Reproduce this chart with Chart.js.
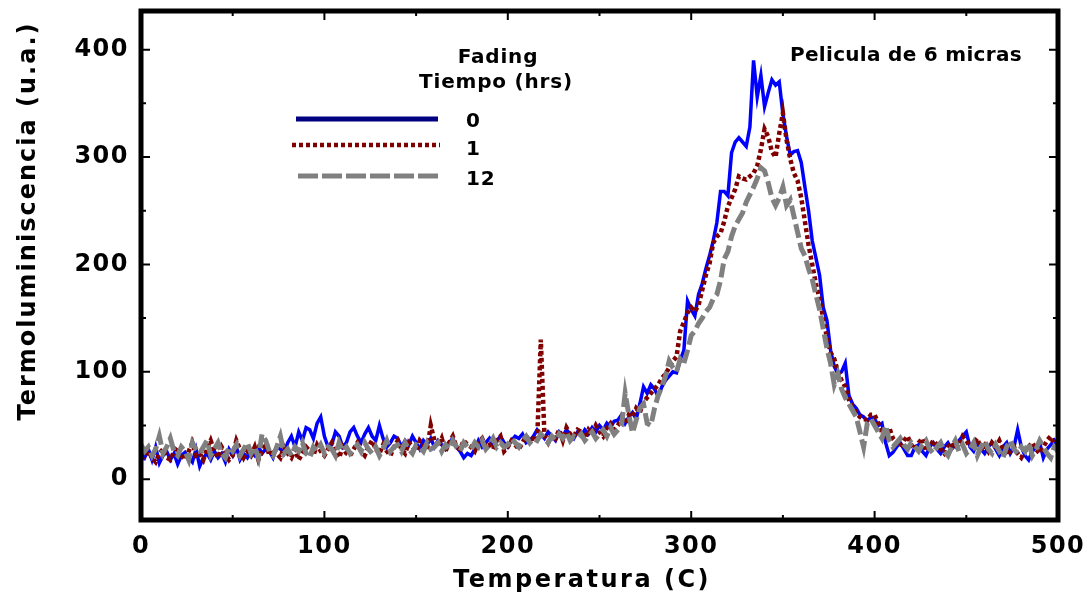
<!DOCTYPE html>
<html><head><meta charset="utf-8">
<script src="https://cdn.jsdelivr.net/npm/chart.js@4"></script>
<style>html,body{margin:0;padding:0;background:#fff;overflow:hidden}canvas{display:block}</style>
</head><body>
<canvas id="c" width="1090" height="597"></canvas>
<script>
// ---- data (temperature sampled every 2 C from 0 to 500) ----
const T_START = 0, T_STEP = 2;
const serie0h = [
 25,20,28,18,30,15,22,26,18,24,
 14,22,25,20,16,28,12,20,24,18,
 26,20,24,16,28,22,30,18,24,20,
 26,22,30,24,28,26,20,30,28,24,
 34,40,30,44,36,48,46,38,52,58,
 40,30,32,44,40,30,34,44,48,40,
 34,42,48,40,36,50,38,30,34,40,
 38,30,36,32,40,34,28,36,32,38,
 30,36,32,28,34,38,30,26,20,24,
 22,28,36,30,34,38,32,36,40,34,
 30,36,40,38,42,34,36,40,46,42,
 38,44,40,36,44,40,46,42,38,44,
 40,46,42,48,44,50,46,52,48,54,
 55,60,52,58,62,56,70,86,80,88,
 84,77,86,92,96,100,99,111,120,166,
 158,152,172,182,196,208,222,239,268,268,
 264,304,314,318,314,310,328,390,356,376,
 347,360,372,367,370,340,319,302,305,306,
 295,272,250,222,206,190,160,148,120,105,
 98,100,108,78,70,66,60,58,54,58,
 56,50,52,34,22,25,30,34,28,22,
 22,30,32,26,22,30,34,28,24,30,
 34,28,32,36,40,44,30,26,34,28,
 24,30,34,28,22,30,34,24,30,46,
 30,22,18,26,30,34,20,28,32,36,
 28
];
const serie1h = [
 18,22,26,20,16,24,28,20,18,26,
 30,22,18,26,34,22,24,18,28,36,
 26,20,30,24,18,22,36,28,20,26,
 22,30,18,26,34,22,28,24,20,30,
 24,20,28,18,24,30,26,22,32,26,
 22,28,34,26,20,30,24,22,28,34,
 26,22,30,36,28,24,32,26,22,30,
 36,28,24,34,30,26,36,32,28,50,
 36,30,38,26,34,40,30,28,36,32,
 30,26,34,38,30,32,28,36,40,26,
 30,36,32,28,34,40,36,38,36,130,
 40,34,42,38,46,36,48,42,40,46,
 44,38,46,42,50,44,40,48,52,46,
 50,56,52,60,58,66,62,72,76,80,
 84,88,94,98,104,110,114,138,146,155,
 160,156,162,176,190,201,220,226,229,240,
 254,262,270,282,280,279,282,285,292,307,
 326,319,305,300,322,341,316,298,285,278,
 262,240,218,200,182,168,150,132,118,112,
 100,92,86,74,67,62,58,56,55,60,
 60,52,44,40,48,38,34,30,36,40,
 32,28,34,38,26,30,36,32,28,24,
 30,34,28,32,40,36,30,34,38,28,
 32,26,34,30,36,28,22,26,30,24,
 20,26,30,34,28,24,30,36,40,32,
 30
];
const serie12h = [
 32,26,30,22,28,40,24,30,38,26,
 22,30,26,18,34,28,24,30,36,22,
 28,34,24,20,30,26,32,22,28,34,
 24,30,20,42,36,26,22,30,40,24,
 28,22,30,26,34,24,20,30,26,32,
 24,30,28,22,34,26,30,24,28,32,
 26,34,28,24,30,22,28,36,26,30,
 32,26,34,28,24,32,30,26,34,28,
 30,34,26,32,28,36,30,26,34,30,
 28,34,30,36,28,32,38,30,34,30,
 32,38,34,30,36,40,34,38,36,42,
 38,34,40,36,42,38,44,36,40,38,
 42,36,40,44,38,42,46,40,48,42,
 46,50,80,60,43,55,66,70,52,50,
 66,78,86,96,110,104,100,112,108,120,
 134,138,145,150,156,160,168,172,185,205,
 212,226,236,242,248,258,265,272,280,290,
 287,276,262,255,262,272,255,260,245,230,
 215,208,196,186,172,158,140,122,108,88,
 98,84,76,70,64,58,44,30,52,56,
 50,44,38,50,36,30,34,38,32,28,
 34,30,26,32,36,28,24,30,34,26,
 22,30,36,26,32,24,28,34,22,30,
 36,28,24,32,26,20,30,36,28,24,
 30,26,34,22,28,36,30,24,20,30,
 26
];
const seriesNames = ['0', '1', '12'];
const xTickValues = [0, 100, 200, 300, 400, 500];
const yTickValues = [0, 100, 200, 300, 400];
const legendTitle = ['Fading', 'Tiempo (hrs)'];
const xTitle = 'Temperatura (C)';
const yTitle = 'Termoluminiscencia (u.a.)';
const noteText = 'Pelicula de 6 micras';

const temps = serie0h.map((_, i) => T_START + i * T_STEP);
const toPts = arr => arr.map((v, i) => ({ x: temps[i], y: v }));

const FONT = '"DejaVu Sans", "Liberation Sans", sans-serif';
const styles = [
  { color: '#0000FF', legend: '#000080', width: 3.5, dash: [] },
  { color: '#800000', legend: '#800000', width: 4.5, dash: [4, 3] },
  { color: '#808080', legend: '#808080', width: 5, dash: [14, 5] }
];

function txt(ctx, s, x, y, size, align, spacing) {
  ctx.font = 'bold ' + size + 'px ' + FONT;
  ctx.letterSpacing = spacing + 'px';
  ctx.textAlign = align;
  ctx.textBaseline = 'alphabetic';
  ctx.fillStyle = '#000';
  ctx.fillText(s, x, y);
}

const deco = {
  id: 'deco',
  beforeDraw(chart) { chart.ctx.letterSpacing = '1.5px'; },
  afterDatasetsDraw(chart) {
    const { ctx, chartArea: a, scales: { x, y } } = chart;
    ctx.save();
    ctx.setLineDash([]);
    ctx.strokeStyle = '#000';
    ctx.lineWidth = 2;
    ctx.beginPath();
    x.ticks.forEach(t => {
      const px = x.getPixelForValue(t.value);
      const len = xTickValues.includes(t.value) ? 9 : 5;
      ctx.moveTo(px, a.bottom); ctx.lineTo(px, a.bottom - len);
      ctx.moveTo(px, a.top); ctx.lineTo(px, a.top + len);
    });
    y.ticks.forEach(t => {
      const py = y.getPixelForValue(t.value);
      const len = yTickValues.includes(t.value) ? 9 : 5;
      ctx.moveTo(a.left, py); ctx.lineTo(a.left + len, py);
      ctx.moveTo(a.right, py); ctx.lineTo(a.right - len, py);
    });
    ctx.stroke();
    // frame
    ctx.lineWidth = 5;
    ctx.strokeRect(a.left, a.top, a.right - a.left, a.bottom - a.top);

    // axis titles
    txt(ctx, xTitle, 582, 587, 24, 'center', 2.5);
    ctx.save();
    ctx.translate(35, 221);
    ctx.rotate(-Math.PI / 2);
    txt(ctx, yTitle, 0, 0, 24, 'center', 2);
    ctx.restore();

    // legend
    txt(ctx, legendTitle[0], 498, 63, 20, 'center', 0.8);
    txt(ctx, legendTitle[1], 496, 88, 20, 'center', 0.8);
    const rows = [{ y: 119, x0: 296, x1: 438, ty: 127 }, { y: 145, x0: 292, x1: 440, ty: 155 }, { y: 176, x0: 298, x1: 442, ty: 185 }];
    rows.forEach((r, i) => {
      const s = styles[i];
      ctx.beginPath();
      ctx.strokeStyle = s.legend;
      ctx.lineWidth = i === 0 ? 5 : s.width;
      ctx.setLineDash(i === 2 ? [20, 4] : s.dash);
      ctx.moveTo(r.x0, r.y); ctx.lineTo(r.x1, r.y);
      ctx.stroke();
      ctx.setLineDash([]);
      txt(ctx, seriesNames[i], 466, r.ty, 20, 'left', 0.8);
    });
    // note
    txt(ctx, noteText, 790, 61, 20, 'left', 0.3);
    ctx.restore();
  }
};

const datasets = [serie0h, serie1h, serie12h].map((arr, i) => ({
  label: seriesNames[i],
  data: toPts(arr),
  borderColor: styles[i].color,
  borderWidth: styles[i].width,
  borderDash: styles[i].dash,
  borderCapStyle: 'butt',
  borderJoinStyle: 'miter',
  pointRadius: 0,
  tension: 0,
  fill: false,
  order: 3 - i
}));

const tickFont = { family: FONT, size: 24, weight: 'bold' };

new Chart(document.getElementById('c'), {
  type: 'line',
  data: { datasets },
  plugins: [deco],
  options: {
    responsive: false,
    animation: false,
    devicePixelRatio: 1,
    layout: { padding: { top: 11, right: 32, left: 0, bottom: 0 } },
    plugins: { legend: { display: false }, tooltip: { enabled: false } },
    scales: {
      x: {
        type: 'linear', min: 0, max: 500,
        grid: { display: false, drawTicks: false },
        border: { display: false },
        ticks: {
          stepSize: 50, autoSkip: false, maxRotation: 0, includeBounds: false,
          padding: 12, color: '#000', font: tickFont,
          callback: v => xTickValues.includes(v) ? String(v) : ''
        },
        afterFit: s => { s.height = 77; s.paddingLeft = 0; s.paddingRight = 0; }
      },
      y: {
        type: 'linear', min: -38, max: 436,
        grid: { display: false, drawTicks: false },
        border: { display: false },
        ticks: {
          stepSize: 50, autoSkip: false, includeBounds: false,
          padding: 12, color: '#000', font: tickFont,
          callback: v => yTickValues.includes(v) ? String(v) : ''
        },
        afterFit: s => { s.width = 141; s.paddingTop = 0; s.paddingBottom = 0; }
      }
    }
  }
});
</script>
</body></html>
